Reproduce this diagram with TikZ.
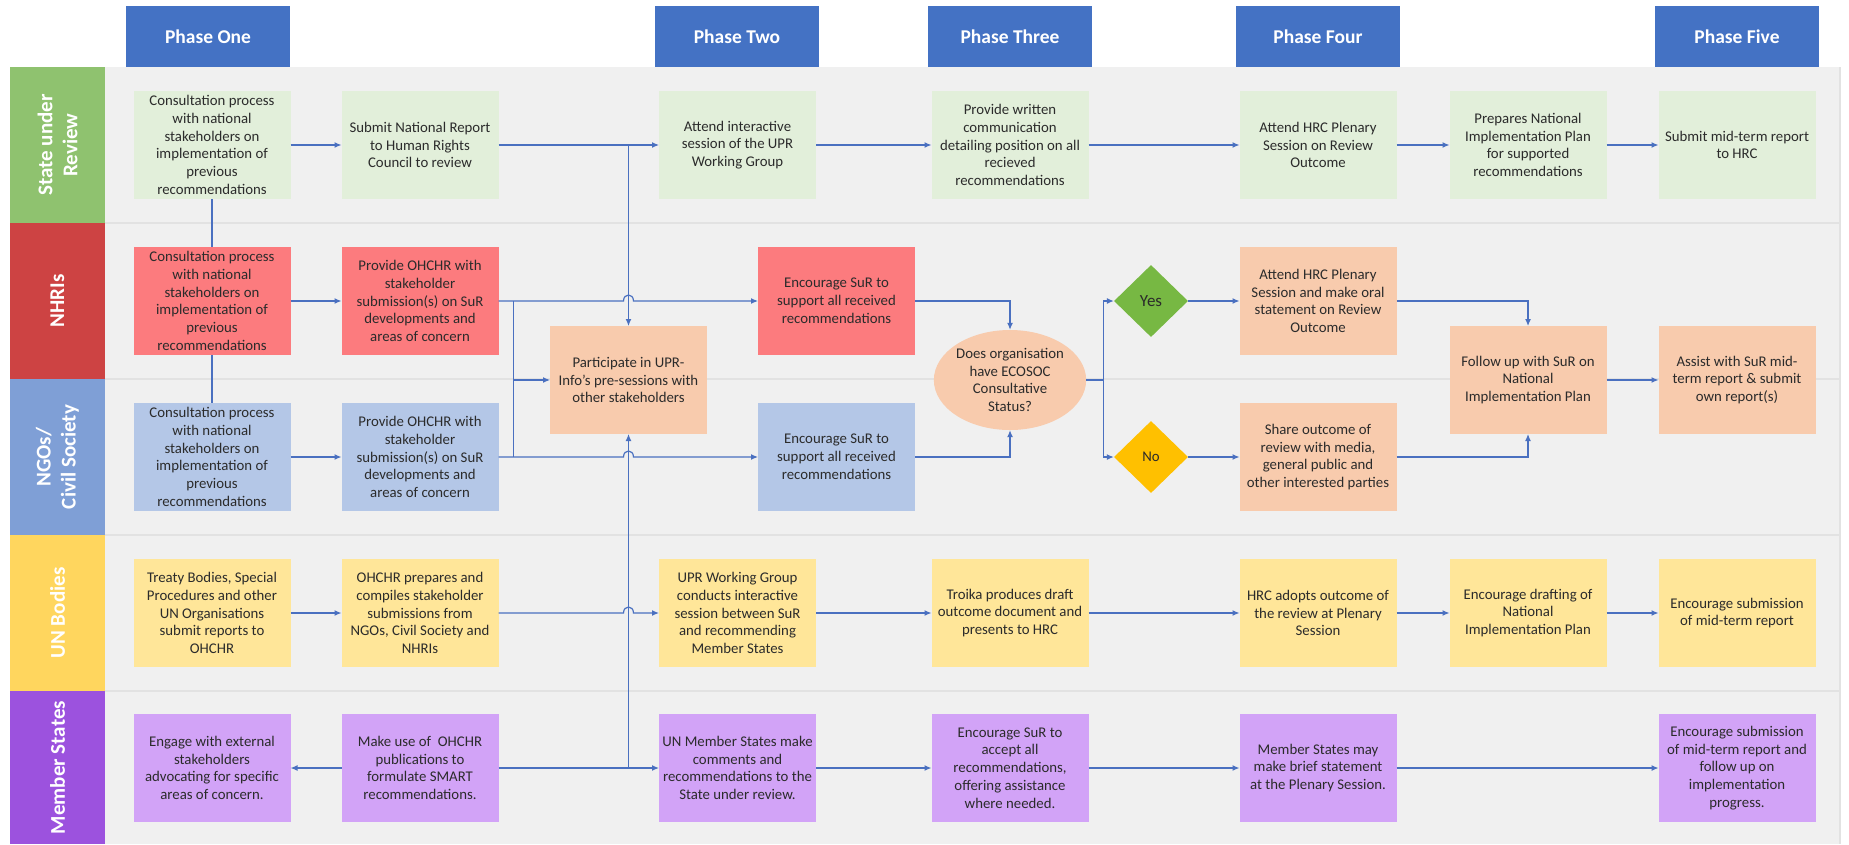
\documentclass[tikz,border=0pt]{standalone}
\usepackage{fontspec}
\setmainfont{Carlito}
\usetikzlibrary{shapes.geometric,arrows.meta,calc}
\definecolor{phaseblue}{HTML}{4472C4}
\definecolor{lanebg}{HTML}{F0F0F0}
\definecolor{lanesepcol}{HTML}{E2E2E2}
\definecolor{surlab}{HTML}{8FC26F}
\definecolor{surfill}{HTML}{E2EFDA}
\definecolor{nhrilab}{HTML}{CD4343}
\definecolor{nhrifill}{HTML}{FC7B7E}
\definecolor{ngolab}{HTML}{7F9FD6}
\definecolor{ngofill}{HTML}{B4C7E7}
\definecolor{unlab}{HTML}{FFD65E}
\definecolor{unfill}{HTML}{FFE699}
\definecolor{mslab}{HTML}{9C52DE}
\definecolor{msfill}{HTML}{D2A3F7}
\definecolor{orfill}{HTML}{F8CBAD}
\definecolor{yesgreen}{HTML}{77B843}
\definecolor{noyellow}{HTML}{FFC000}
\definecolor{linecol}{HTML}{4A70C0}
\definecolor{txt}{HTML}{2B2B2B}
\tikzset{
  box/.style={rectangle, minimum width=157pt, minimum height=108pt, inner sep=1pt, outer sep=0pt,
    align=center, text=txt, font=\fontsize{14.8}{17.8}\selectfont},
  sbox/.style={box, fill=surfill},
  nbox/.style={box, fill=nhrifill},
  gbox/.style={box, fill=ngofill},
  ubox/.style={box, fill=unfill},
  mbox/.style={box, fill=msfill},
  obox/.style={box, fill=orfill},
  phasebox/.style={rectangle, fill=phaseblue, minimum width=164pt, minimum height=61pt, inner sep=0pt,
    text=white, font=\fontsize{19.5}{22}\selectfont\bfseries},
  lanelab/.style={rectangle, rotate=90, minimum width=156pt, minimum height=95pt, inner sep=0pt, outer sep=0pt,
    text=white, align=center, font=\fontsize{21}{25}\selectfont\bfseries},
  lanesep/.style={draw=lanesepcol, line width=1.5pt},
  arr/.style={draw=linecol, line width=1.2pt, -{Latex[length=7pt,width=6pt]}},
  ln/.style={draw=linecol, line width=1.2pt},
}
\begin{document}
\begin{tikzpicture}[x=1pt,y=-1pt]
\useasboundingbox (0,0) rectangle (1849,844);
% lanes background
\fill[lanebg] (105,67) rectangle (1840,844);
\foreach \yy in {223,379,535,691} \draw[lanesep] (105,\yy) -- (1840,\yy);
\draw[lanesep] (1840,67) -- (1840,844);
% lane labels
\node[lanelab, fill=surlab] (L1) at (57.5,145) {State under\\Review};
\node[lanelab, fill=nhrilab] (L2) at (57.5,301) {NHRIs};
\node[lanelab, fill=ngolab] (L3) at (57.5,457) {NGOs/\\Civil Society};
\node[lanelab, fill=unlab] (L4) at (57.5,613) {UN Bodies};
\node[lanelab, fill=mslab, minimum width=153pt] (L5) at (57.5,767.5) {Member States};
% phase headers
\node[phasebox] (P1) at (208,36.5) {Phase One};
\node[phasebox] (P2) at (737,36.5) {Phase Two};
\node[phasebox] (P3) at (1010,36.5) {Phase Three};
\node[phasebox] (P4) at (1318,36.5) {Phase Four};
\node[phasebox] (P5) at (1737,36.5) {Phase Five};
% State under review
\node[sbox] (s1) at (212,145) {Consultation process\\with national\\stakeholders on\\implementation of\\previous\\recommendations};
\node[sbox] (s2) at (420,145) {Submit National Report\\to Human Rights\\Council to review};
\node[sbox] (s3) at (737.5,145) {Attend interactive\\session of the UPR\\Working Group};
\node[sbox] (s4) at (1010,145) {Provide written\\communication\\detailing position on all\\recieved\\recommendations};
\node[sbox] (s5) at (1318,145) {Attend HRC Plenary\\Session on Review\\Outcome};
\node[sbox] (s6) at (1528,145) {Prepares National\\Implementation Plan\\for supported\\recommendations};
\node[sbox] (s7) at (1737,145) {Submit mid-term report\\to HRC};
% NHRIs
\node[nbox] (n1) at (212,301) {Consultation process\\with national\\stakeholders on\\implementation of\\previous\\recommendations};
\node[nbox] (n2) at (420,301) {Provide OHCHR with\\stakeholder\\submission(s) on SuR\\developments and\\areas of concern};
\node[nbox] (n3) at (836.5,301) {Encourage SuR to\\support all received\\recommendations};
\node[obox] (n4) at (1318,301) {Attend HRC Plenary\\Session and make oral\\statement on Review\\Outcome};
% middle row
\node[obox] (part) at (628.5,380) {Participate in UPR-\\Info's pre-sessions with\\other stakeholders};
\node[ellipse, fill=orfill, minimum width=146pt, minimum height=100pt, inner sep=0pt, align=center, text=txt,
  font=\fontsize{14.8}{17.8}\selectfont] (ell) at (1010,380) {Does organisation\\have ECOSOC\\Consultative\\Status?};
\node[diamond, fill=yesgreen, minimum width=74pt, minimum height=72pt, inner sep=0pt, text=txt,
  font=\fontsize{17}{20}\selectfont] (yes) at (1151,301) {Yes};
\node[diamond, fill=noyellow, minimum width=74pt, minimum height=72pt, inner sep=0pt, text=txt,
  font=\fontsize{14.8}{17.8}\selectfont] (no) at (1151,457) {No};
\node[obox] (fol) at (1528,380) {Follow up with SuR on\\National\\Implementation Plan};
\node[obox] (ass) at (1737,380) {Assist with SuR mid-\\term report \& submit\\own report(s)};
% NGOs
\node[gbox] (g1) at (212,457) {Consultation process\\with national\\stakeholders on\\implementation of\\previous\\recommendations};
\node[gbox] (g2) at (420,457) {Provide OHCHR with\\stakeholder\\submission(s) on SuR\\developments and\\areas of concern};
\node[gbox] (g3) at (836.5,457) {Encourage SuR to\\support all received\\recommendations};
\node[obox] (g4) at (1318,457) {Share outcome of\\review with media,\\general public and\\other interested parties};
% UN bodies
\node[ubox] (u1) at (212,613) {Treaty Bodies, Special\\Procedures and other\\UN Organisations\\submit reports to\\OHCHR};
\node[ubox] (u2) at (420,613) {OHCHR prepares and\\compiles stakeholder\\submissions from\\NGOs, Civil Society and\\NHRIs};
\node[ubox] (u3) at (737.5,613) {UPR Working Group\\conducts interactive\\session between SuR\\and recommending\\Member States};
\node[ubox] (u4) at (1010,613) {Troika produces draft\\outcome document and\\presents to HRC};
\node[ubox] (u5) at (1318,613) {HRC adopts outcome of\\the review at Plenary\\Session};
\node[ubox] (u6) at (1528,613) {Encourage drafting of\\National\\Implementation Plan};
\node[ubox] (u7) at (1737,613) {Encourage submission\\of mid-term report};
% Member states
\node[mbox] (m1) at (212,768) {Engage with external\\stakeholders\\advocating for specific\\areas of concern.};
\node[mbox] (m2) at (420,768) {Make use of~~OHCHR\\publications to\\formulate SMART\\recommendations.};
\node[mbox] (m3) at (737.5,768) {UN Member States make\\comments and\\recommendations to the\\State under review.};
\node[mbox] (m4) at (1010,768) {Encourage SuR to\\accept all\\recommendations,\\offering assistance\\where needed.};
\node[mbox] (m5) at (1318,768) {Member States may\\make brief statement\\at the Plenary Session.};
\node[mbox] (m7) at (1737,768) {Encourage submission\\of mid-term report and\\follow up on\\implementation\\progress.};
% ---- connectors ----
% SuR row
\draw[arr] (s1.east) -- (s2.west);
\draw[arr] (s2.east) -- (s3.west);
\draw[arr] (s3.east) -- (s4.west);
\draw[arr] (s4.east) -- (s5.west);
\draw[arr] (s5.east) -- (s6.west);
\draw[arr] (s6.east) -- (s7.west);
% consultation links
\draw[ln] (s1.south) -- (n1.north);
\draw[ln] (n1.south) -- (g1.north);
% top vertical into Participate
\draw[arr] (s2.east -| part.north) -- (part.north);
% NHRI row
\draw[arr] (n1.east) -- (n2.west);
\draw[arr] (n2.east) -- ($(n2.east -| part.north)+(-5,0)$) .. controls +(0,-8) and +(0,-8) .. ++(10,0) -- (n3.west);
% NGO row
\draw[arr] (g1.east) -- (g2.west);
\draw[arr] (g2.east) -- ($(g2.east -| part.south)+(-5,0)$) .. controls +(0,-8) and +(0,-8) .. ++(10,0) -- (g3.west);
% bus into Participate
\path (n2.east) ++(15,0) coordinate (bt);
\draw[ln] (bt) -- (bt |- g2.east);
\draw[arr] (bt |- part.west) -- (part.west);
% to ellipse
\draw[arr] (n3.east) -| (ell.north);
\draw[arr] (g3.east) -| (ell.south);
% branch
\path (ell.east) ++(17,0) coordinate (br);
\draw[ln] (ell.east) -- (br);
\draw[arr] (br) |- (yes.west);
\draw[arr] (br) |- (no.west);
\draw[arr] (yes.east) -- (n4.west);
\draw[arr] (no.east) -- (g4.west);
\draw[arr] (n4.east) -| (fol.north);
\draw[arr] (g4.east) -| (fol.south);
\draw[arr] (fol.east) -- (ass.west);
% UN row
\draw[arr] (u1.east) -- (u2.west);
\draw[arr] (u2.east) -- ($(u2.east -| part.south)+(-5,0)$) .. controls +(0,-8) and +(0,-8) .. ++(10,0) -- (u3.west);
\draw[arr] (u3.east) -- (u4.west);
\draw[arr] (u4.east) -- (u5.west);
\draw[arr] (u5.east) -- (u6.west);
\draw[arr] (u6.east) -- (u7.west);
% MS row
\draw[arr] (m2.west) -- (m1.east);
\draw[arr] (m2.east) -- (m3.west);
\draw[arr] (m2.east -| part.south) -- (part.south);
\draw[arr] (m3.east) -- (m4.west);
\draw[arr] (m4.east) -- (m5.west);
\draw[arr] (m5.east) -- (m7.west);
\end{tikzpicture}
\end{document}
